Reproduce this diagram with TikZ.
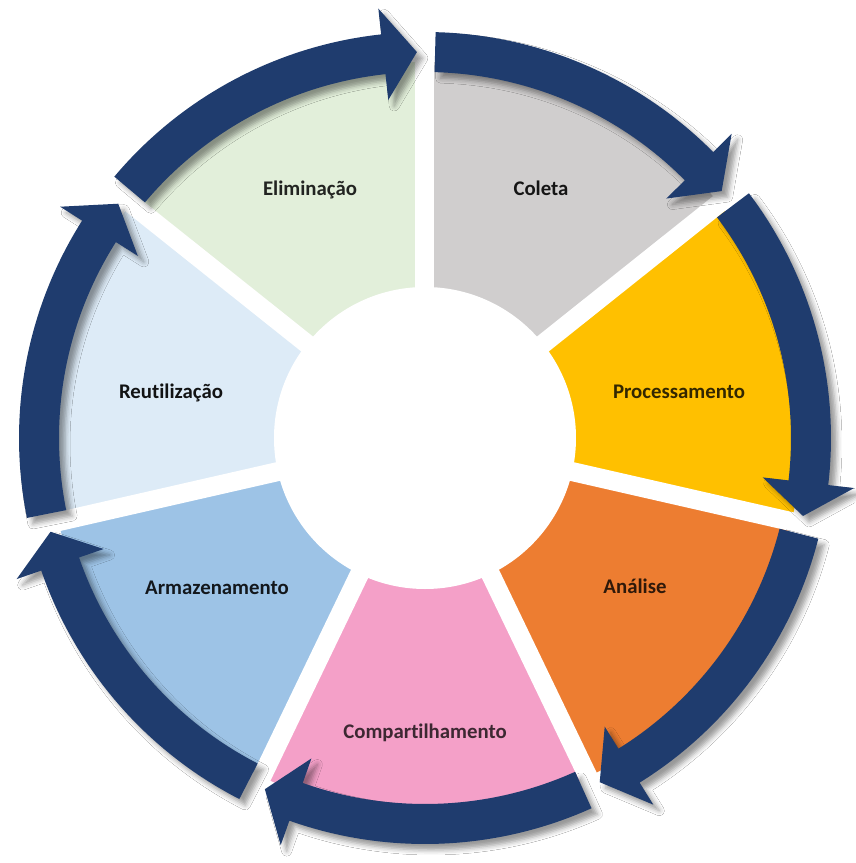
\documentclass[tikz,border=0pt]{standalone}
\usepackage{fontspec}
\setmainfont{Carlito}[Ligatures=NoCommon]
\usetikzlibrary{shadows.blur}
\definecolor{navy}{HTML}{1F3C6E}
\definecolor{celim}{HTML}{E2EFDA}
\definecolor{ccol}{HTML}{D0CECE}
\definecolor{cproc}{HTML}{FFC000}
\definecolor{cana}{HTML}{ED7D31}
\definecolor{ccomp}{HTML}{F4A0C8}
\definecolor{carm}{HTML}{9DC3E6}
\definecolor{creu}{HTML}{DDEBF7}
\tikzset{
  lbl/.style={font=\fontsize{20.8}{25}\selectfont\bfseries, inner sep=0pt},
  arrowband/.style={fill=navy, blur shadow={shadow xshift=6pt, shadow yshift=-6pt, shadow blur radius=5pt, shadow opacity=40}},
  gapline/.style={draw=white, line width=19pt}
}
\begin{document}
\begin{tikzpicture}
\useasboundingbox (-425pt,-425pt) rectangle (430pt,438pt);
\fill[white] (-425pt,-425pt) rectangle (430pt,438pt);
% sectors
\foreach \i/\c in {0/ccol,1/cproc,2/cana,3/ccomp,4/carm,5/creu,6/celim}{
  \pgfmathsetmacro\bu{90-51.428571*\i}
  \pgfmathsetmacro\bl{\bu-51.428571}
  \fill[\c] (0pt,0pt) -- (\bu:376pt) arc[start angle=\bu, end angle=\bl, radius=376pt] -- cycle;
}
% gaps
\foreach \i in {0,...,6}{
  \pgfmathsetmacro\bu{90-51.428571*\i}
  \draw[gapline] (0pt,0pt) -- (\bu:392pt);
}
\fill[white] (0pt,0pt) circle[radius=151pt];
% arrows
\foreach \i in {0,...,6}{
  \pgfmathsetmacro\bu{90-51.428571*\i}
  \pgfmathsetmacro\s{\bu-1.5}
  \pgfmathsetmacro\t{\bu-51.428571+1.2}
  \pgfmathsetmacro\h{\t+5}
  \path[arrowband] (\s:406pt) arc[start angle=\s, end angle=\h, radius=406pt]
     -- (\h:432pt) -- (\t:386pt) -- (\h:340pt) -- (\h:366pt)
     arc[start angle=\h, end angle=\s, radius=366pt] -- cycle;
}
% labels
\node[lbl, text=celim!15!black] (elim) at (-115pt,248pt) {Eliminação};
\node[lbl, text=ccol!10!black] (coleta) at (116pt,250pt) {Coleta};
\node[lbl, text=cproc!20!black] (proc) at (254pt,46pt) {Processamento};
\node[lbl, text=cana!20!black] (analise) at (210pt,-148pt) {Análise};
\node[lbl, text=ccomp!25!black] (comp) at (0pt,-295pt) {Compartilhamento};
\node[lbl, text=carm!12!black] (arm) at (-208pt,-150pt) {Armazenamento};
\node[lbl, text=creu!8!black] (reut) at (-254pt,45pt) {Reutilização};
\end{tikzpicture}
\end{document}
